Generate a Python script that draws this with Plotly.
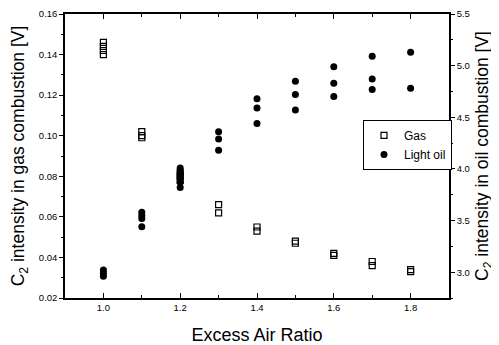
import plotly.graph_objects as go

gas_x = [1.0, 1.0, 1.0, 1.0, 1.1, 1.1, 1.1, 1.2, 1.2, 1.2, 1.3, 1.3, 1.4, 1.4,
         1.5, 1.5, 1.6, 1.6, 1.7, 1.7, 1.8, 1.8]
gas_y = [0.146, 0.144, 0.142, 0.140, 0.102, 0.100, 0.099, 0.082, 0.080, 0.078,
         0.066, 0.062, 0.055, 0.053, 0.048, 0.047, 0.042, 0.041, 0.038, 0.036,
         0.034, 0.033]

oil_x = [1.0, 1.0, 1.0, 1.1, 1.1, 1.1, 1.1, 1.2, 1.2, 1.2, 1.2, 1.2,
         1.3, 1.3, 1.3, 1.4, 1.4, 1.4, 1.5, 1.5, 1.5, 1.6, 1.6, 1.6,
         1.7, 1.7, 1.7, 1.8, 1.8]
oil_y = [3.02, 2.99, 2.96, 3.58, 3.55, 3.52, 3.44, 4.01, 3.97, 3.93, 3.87, 3.82,
         4.36, 4.29, 4.18, 4.68, 4.59, 4.44, 4.85, 4.72, 4.57, 4.99, 4.83, 4.70,
         5.09, 4.87, 4.77, 5.13, 4.78]

x_ticks = [1.0, 1.2, 1.4, 1.6, 1.8]
left_ticks = [0.02, 0.04, 0.06, 0.08, 0.10, 0.12, 0.14, 0.16]
right_ticks = [3.0, 3.5, 4.0, 4.5, 5.0, 5.5]

font = "Arial, Liberation Sans, sans-serif"

fig = go.Figure()
fig.add_trace(go.Scatter(
    x=gas_x, y=gas_y, mode="markers", name="Gas",
    marker=dict(symbol="square-open", size=6, color="black", line=dict(width=1.2)),
))
fig.add_trace(go.Scatter(
    x=oil_x, y=oil_y, mode="markers", name="Light oil", yaxis="y2",
    marker=dict(symbol="circle", size=7, color="black"),
))

# page is offset by the browser's 8px body margin, so the figure is 8px smaller
fig.update_layout(
    width=491, height=337,
    margin=dict(l=57, r=50, t=6, b=47),
    paper_bgcolor="white", plot_bgcolor="white",
    font=dict(family=font, color="black"),
    showlegend=True,
    legend=dict(x=0.776, y=0.627, xanchor="left", yanchor="top",
                bordercolor="black", borderwidth=1, bgcolor="white",
                font=dict(size=12), tracegroupgap=0, itemwidth=30),
    xaxis=dict(
        range=[0.9, 1.9], tickvals=x_ticks, ticktext=["1.0", "1.2", "1.4", "1.6", "1.8"],
        ticks="inside", ticklen=5, tickcolor="black",
        minor=dict(dtick=0.1, ticks="inside", ticklen=3, tickcolor="black"),
        showline=True, linecolor="black", linewidth=1.5, mirror="ticks",
        showgrid=False, zeroline=False, automargin=False,
        tickfont=dict(size=9.5),
        title=dict(text="Excess Air Ratio", font=dict(size=18), standoff=18),
    ),
    yaxis=dict(
        range=[0.02, 0.16], tickvals=left_ticks,
        ticktext=["0.02", "0.04", "0.06", "0.08", "0.10", "0.12", "0.14", "0.16"],
        ticks="outside", ticklen=4, tickcolor="black",
        minor=dict(dtick=0.01, ticks="outside", ticklen=2, tickcolor="black"),
        showline=True, linecolor="black", linewidth=1.5,
        showgrid=False, zeroline=False, automargin=False,
        tickfont=dict(size=9.5),
        title=dict(text="C<sub>2</sub> intensity in gas combustion [V]",
                   font=dict(size=17.5), standoff=12),
    ),
    yaxis2=dict(
        range=[2.75, 5.5], tickvals=right_ticks,
        ticktext=["3.0", "3.5", "4.0", "4.5", "5.0", "5.5"],
        overlaying="y", side="right",
        ticks="outside", ticklen=4, tickcolor="black",
        minor=dict(dtick=0.25, ticks="outside", ticklen=2, tickcolor="black"),
        showline=True, linecolor="black", linewidth=1.5,
        showgrid=False, zeroline=False, automargin=False,
        tickfont=dict(size=9.5),
        title=dict(text="C<sub>2</sub> intensity in oil combustion [V]",
                   font=dict(size=17.5), standoff=7),
    ),
)

fig.write_html("out.html")
